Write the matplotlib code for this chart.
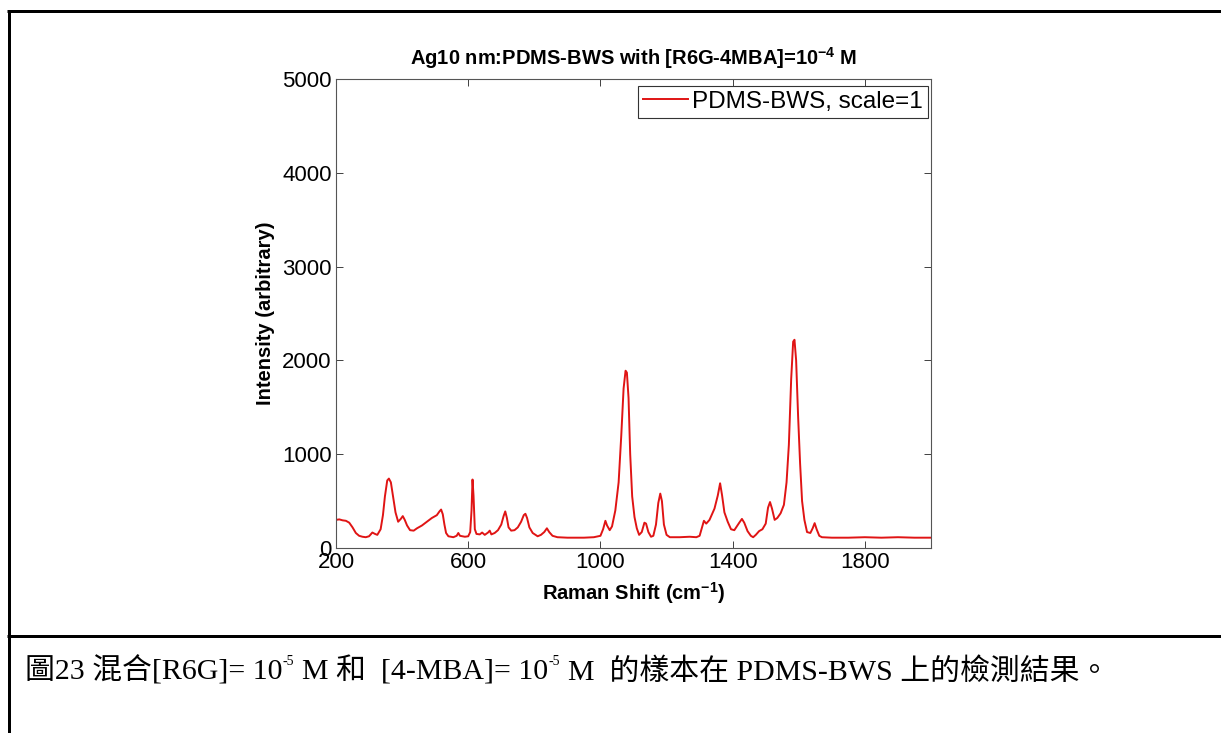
import matplotlib
matplotlib.use("Agg")
import matplotlib.pyplot as plt

# ---------------- data ----------------
raman_shift = [
    200, 210, 220, 230, 240, 250, 260, 270, 280, 290, 300, 310, 318, 325, 335,
    342, 348, 355, 360, 366, 372, 380, 388, 396, 402, 408, 415, 424, 435, 445,
    460, 475, 490, 505, 513, 518, 523, 528, 533, 540, 555, 565, 570, 575, 590,
    600, 606, 610, 613, 616, 620, 625, 635, 642, 650, 660, 665, 670, 680, 690,
    700, 707, 712, 717, 722, 730, 740, 750, 760, 768, 773, 778, 785, 795, 810,
    820, 830, 838, 845, 855, 870, 900, 950, 980, 1000, 1008, 1015, 1020, 1028,
    1035, 1045, 1055, 1063, 1070, 1076, 1080, 1085, 1090, 1096, 1103, 1110,
    1117, 1125, 1133, 1138, 1145, 1153, 1160, 1168, 1175, 1181, 1186, 1192,
    1200, 1210, 1240, 1270, 1290, 1300, 1308, 1313, 1320, 1330, 1345, 1355,
    1362, 1368, 1375, 1385, 1395, 1405, 1420, 1428, 1435, 1445, 1455, 1462,
    1470, 1480, 1490, 1500, 1507, 1513, 1519, 1527, 1535, 1545, 1555, 1563,
    1570, 1577, 1583, 1587, 1592, 1598, 1604, 1610, 1617, 1625, 1635, 1642,
    1648, 1654, 1662, 1670, 1700, 1750, 1800, 1850, 1900, 1950, 2000,
]
intensity = [
    300, 305, 295, 290, 270, 220, 160, 130, 120, 115, 125, 165, 150, 140, 200,
    350, 550, 720, 740, 700, 560, 380, 280, 310, 340, 300, 240, 190, 185, 210,
    240, 280, 320, 350, 390, 410, 360, 250, 160, 125, 115, 130, 160, 130, 120,
    125, 170, 400, 730, 560, 200, 150, 145, 165, 140, 165, 185, 145, 160, 190,
    250, 340, 390, 320, 220, 185, 190, 220, 280, 350, 365, 320, 220, 160, 125,
    140, 170, 210, 170, 130, 115, 110, 110, 115, 130, 200, 290, 240, 190,
    230, 400, 700, 1200, 1700, 1890, 1870, 1600, 1000, 550, 330, 210,
    140, 170, 270, 260, 170, 120, 130, 250, 480, 580, 500, 250,
    140, 115, 115, 120, 115, 130, 230, 290, 260, 300, 420, 560,
    690, 560, 380, 280, 200, 190, 270, 310, 270, 180, 130, 115,
    140, 180, 200, 260, 430, 490, 420, 300, 320, 370, 460, 700,
    1100, 1800, 2200, 2220, 2000, 1400, 900, 500, 300, 170, 160, 210,
    265, 200, 130, 115, 110, 110, 115, 110, 115, 110, 110,
]
x_ticks = [200, 600, 1000, 1400, 1800]
y_ticks = [0, 1000, 2000, 3000, 4000, 5000]
series_label = "PDMS-BWS, scale=1"
title_text = "Ag10 nm:PDMS-BWS with [R6G-4MBA]=10$^{-4}$ M"
xlabel_text = "Raman Shift (cm$^{-1}$)"
ylabel_text = "Intensity (arbitrary)"
caption_parts = [
    ("圖23 混合[R6G]= 10", False),
    ("-5", True),
    ("M 和  [4-MBA]= 10", False),
    ("-5", True),
    ("M  的樣本在 PDMS-BWS 上的檢測結果。", False),
]

# ---------------- style ----------------
plt.rcParams["font.family"] = ["Liberation Sans", "DejaVu Sans"]
plt.rcParams["mathtext.default"] = "regular"

W, H = 1221, 733
fig = plt.figure(figsize=(W / 100, H / 100), dpi=100)


def hline(y, x0, x1, lw=3):
    fig.add_artist(plt.Line2D([x0 / W, x1 / W], [1 - y / H, 1 - y / H],
                              color="black", lw=lw * 0.72, solid_capstyle="butt"))


def vline(x, y0, y1, lw=3):
    fig.add_artist(plt.Line2D([x / W, x / W], [1 - y0 / H, 1 - y1 / H],
                              color="black", lw=lw * 0.72, solid_capstyle="butt"))


hline(11, 7.5, W)
hline(636, 7.5, W)
vline(9, 9.5, H)

# axes
left, right, top, bottom = 336, 931, 79, 548
ax = fig.add_axes([left / W, 1 - bottom / H, (right - left) / W, (bottom - top) / H])
ax.plot(raman_shift, intensity, color="#e01414", lw=1.4, label=series_label)
ax.set_xlim(200, 2000)
ax.set_ylim(0, 5000)
ax.set_xticks(x_ticks)
ax.set_yticks(y_ticks)
ax.tick_params(direction="in", length=5, width=0.7, colors="#404040",
               labelcolor="black", labelsize=16, top=True, right=True, pad=3)
for s in ax.spines.values():
    s.set_color("#555555")
    s.set_linewidth(0.8)

ax.set_title(title_text, fontsize=14.5, fontweight="bold", pad=10)
ax.set_xlabel(xlabel_text, fontsize=14.5, fontweight="bold", labelpad=5)
ax.set_ylabel(ylabel_text, fontsize=14.5, fontweight="bold", labelpad=5)

leg = ax.legend(loc="upper right", bbox_to_anchor=(0.995, 0.985), borderaxespad=0,
                fontsize=17.5, frameon=True, fancybox=False, framealpha=1,
                borderpad=0.2, handlelength=1.85, handletextpad=0.2)
leg.get_frame().set_edgecolor("#333333")
leg.get_frame().set_linewidth(0.8)

# caption built piecewise (superscripts)
renderer = fig.canvas.get_renderer()
cap_family = ["Liberation Serif", "Noto Sans CJK TC"]
x_px = 25
base_y = 1 - 680 / H
for i, (txt, sup) in enumerate(caption_parts):
    if i > 0 and not sup:
        x_px += 8
    if sup:
        t = fig.text(x_px / W, base_y + 15 / H, txt, fontsize=10, family=cap_family,
                     va="baseline", ha="left")
    else:
        t = fig.text(x_px / W, base_y, txt, fontsize=21.5, family=cap_family,
                     va="baseline", ha="left")
    bb = t.get_window_extent(renderer)
    x_px = bb.x1

fig.savefig("out.png", dpi=100)
